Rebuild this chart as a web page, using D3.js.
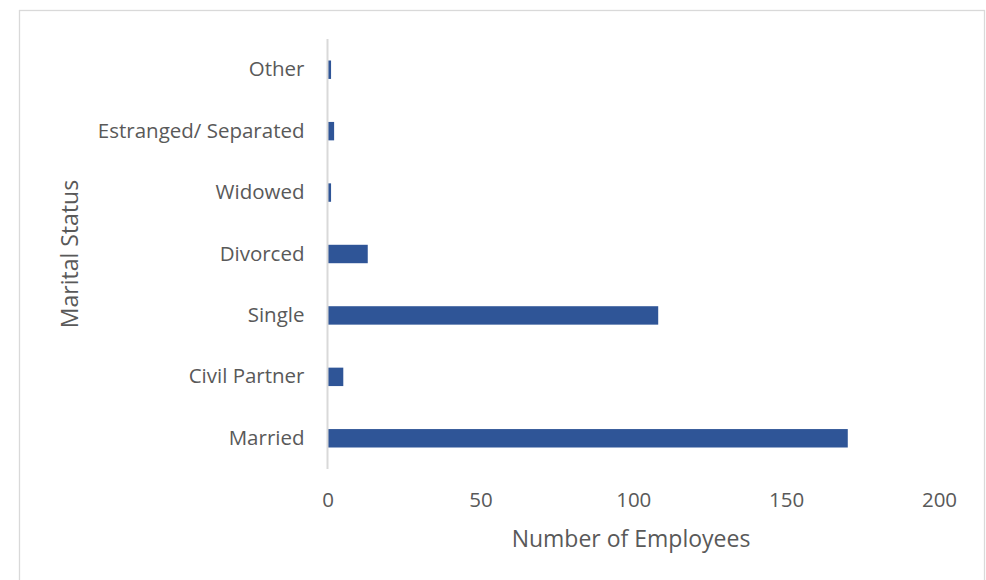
<!DOCTYPE html>
<html><head><meta charset="utf-8">
<script src="https://cdn.jsdelivr.net/npm/d3@7/dist/d3.min.js"></script>
<style>body{margin:0;background:#fff;} svg{display:block;}</style>
</head><body><svg id="c" width="986" height="580"></svg>
<script>
const categories = ["Married","Civil Partner","Single","Divorced","Widowed","Estranged/ Separated","Other"];
const values = [170, 5, 108, 13, 1, 2, 1];
const xTicks = [0, 50, 100, 150, 200];
const xTitle = "Number of Employees";
const yTitle = "Marital Status";

const svg = d3.select("#c");
const font = "'Open Sans', 'Noto Sans', sans-serif";
const textColor = "#595959";

svg.append("rect").attr("x",19.5).attr("y",10.5).attr("width",965).attr("height",600)
  .attr("fill","#fff").attr("stroke","#d9d9d9").attr("stroke-width",1.3);

const x = d3.scaleLinear().domain([0,200]).range([327.5,939]);
const y = d3.scaleBand().domain(categories.slice().reverse()).range([39,469]).paddingInner(0.7).paddingOuter(0.35);

svg.selectAll("rect.bar").data(categories).enter().append("rect").attr("class","bar")
  .attr("x", x(0)+0.5)
  .attr("y", d => y(d))
  .attr("width", (d,i) => x(values[i]) - x(0))
  .attr("height", y.bandwidth())
  .attr("fill","#2f5597");

// y axis line
svg.append("line").attr("x1",x(0)).attr("x2",x(0)).attr("y1",39).attr("y2",469)
  .attr("stroke","#d9d9d9").attr("stroke-width",2);

// category labels
const yAxis = svg.append("g").attr("transform",`translate(${x(0)},0)`)
  .call(d3.axisLeft(y).tickSize(0).tickPadding(23));
yAxis.select(".domain").remove();
yAxis.selectAll("text").attr("font-family",font).attr("font-size",20.5).attr("fill",textColor);

// x tick labels
const xAxis = svg.append("g").attr("transform",`translate(0,469)`)
  .call(d3.axisBottom(x).tickValues(xTicks).tickSize(0).tickPadding(23.5));
xAxis.select(".domain").remove();
xAxis.selectAll("text").attr("font-family",font).attr("font-size",20.5).attr("fill",textColor);

svg.append("text").attr("x",631).attr("y",547).attr("text-anchor","middle")
  .attr("font-family",font).attr("font-size",23).attr("fill",textColor).text(xTitle);

svg.append("text").attr("transform","translate(78,254) rotate(-90)").attr("text-anchor","middle")
  .attr("font-family",font).attr("font-size",23).attr("fill",textColor).text(yTitle);
</script></body></html>
